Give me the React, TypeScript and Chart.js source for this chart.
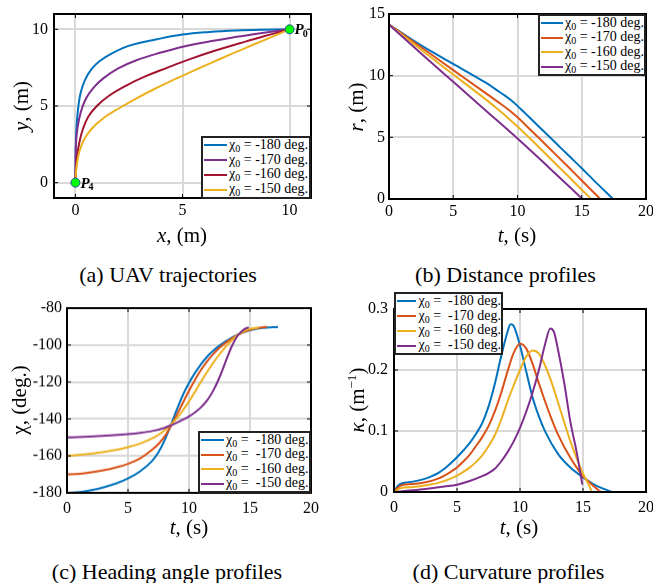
import React, { useEffect, useRef } from "react";
import { Chart, registerables } from "chart.js";

Chart.register(...registerables);

const FONT = "'Liberation Serif', 'Times New Roman', serif";

// ---------------- data ----------------
const chi0Labels = ["-180", "-170", "-160", "-150"];

// (a) UAV trajectories (x, y in m), listed from P4 to P0
const trajX180 = [0, 0.01, 0.03, 0.07, 0.14, 0.25, 0.45, 0.75, 1.15, 1.75, 2.6, 3.8, 5.0, 6.25, 7.5, 8.75, 10];
const trajY180 = [0, 1.5, 3.0, 4.0, 5.0, 5.9, 6.7, 7.4, 7.95, 8.47, 8.97, 9.35, 9.66, 9.83, 9.93, 9.98, 10];
const trajX170 = [0, 0.01, 0.03, 0.1, 0.25, 0.5, 0.85, 1.3, 2.0, 2.85, 3.95, 5.12, 6.3, 7.55, 8.8, 10];
const trajY170 = [0, 1.4, 2.6, 3.6, 4.6, 5.5, 6.2, 6.8, 7.45, 7.98, 8.47, 8.9, 9.22, 9.51, 9.78, 10];
const trajX160 = [0, 0.02, 0.07, 0.18, 0.35, 0.6, 1.0, 1.6, 2.35, 3.18, 4.3, 5.38, 6.5, 7.67, 8.8, 10];
const trajY160 = [0, 0.8, 1.6, 2.6, 3.5, 4.3, 5.0, 5.7, 6.32, 6.88, 7.5, 8.07, 8.6, 9.09, 9.55, 10];
const trajX150 = [0, 0.02, 0.08, 0.2, 0.4, 0.75, 1.3, 2.0, 2.81, 3.62, 4.7, 5.72, 6.8, 7.85, 8.9, 10];
const trajY150 = [0, 0.6, 1.3, 2.1, 2.8, 3.5, 4.2, 4.82, 5.47, 6.06, 6.78, 7.43, 8.1, 8.73, 9.35, 10];
const waypointX = [10, 0];
const waypointY = [10, 0];
const waypointIdx = ["0", "4"];

// (b) distance profiles r(t)
const tDist180 = [0, 2.5, 5, 7.5, 8.5, 9, 9.5, 10, 10.5, 11, 12, 13, 14, 15, 16, 17.4];
const rDist180 = [14.14, 12.45, 10.95, 9.45, 8.75, 8.4, 8.0, 7.55, 7.05, 6.55, 5.53, 4.52, 3.5, 2.5, 1.45, 0.05];
const tDist170 = [0, 2.5, 5, 7.5, 8.5, 9.5, 10, 11, 12, 13, 14, 15, 16.4];
const rDist170 = [14.14, 12.3, 10.45, 8.6, 7.85, 7.08, 6.62, 5.62, 4.6, 3.58, 2.55, 1.5, 0.05];
const tDist160 = [0, 2.5, 5, 7.5, 8.5, 9.5, 10, 11, 12, 13, 14, 15, 15.7];
const rDist160 = [14.14, 12.1, 10.1, 8.1, 7.25, 6.35, 5.88, 4.88, 3.85, 2.82, 1.8, 0.75, 0.05];
const tDist150 = [0, 2.5, 5, 7.5, 10, 12.5, 15];
const rDist150 = [14.14, 11.8, 9.5, 7.2, 4.9, 2.5, 0.05];

// (c) heading angle profiles chi(t), deg
const tHead180 = [0, 1, 2, 3, 4, 5, 6, 7, 7.5, 8, 8.5, 9, 9.5, 10, 10.5, 11, 11.5, 12, 12.5, 13, 14, 15, 16, 17.3];
const chiHead180 = [-180, -179.6, -178.5, -177, -175, -172.2, -168.3, -162.5, -158, -151.5, -143.5, -135, -127, -120.5, -115, -110.2, -106.2, -103, -100.3, -98, -94.3, -92, -90.8, -90.2];
const tHead170 = [0, 1, 2, 3, 4, 5, 6, 7, 7.5, 8, 8.5, 9, 9.5, 10, 10.5, 11, 11.5, 12, 12.5, 13, 14, 15, 16, 16.4];
const chiHead170 = [-170, -169.7, -168.9, -167.8, -166.3, -164.3, -161.3, -156.5, -153.5, -149.5, -144, -137.8, -131.2, -124.7, -118.7, -113.3, -108.7, -104.8, -101.5, -98.8, -94.5, -91.7, -90.4, -90.2];
const tHead160 = [0, 2, 4, 5, 6, 7, 7.5, 8, 8.5, 9, 9.5, 10, 10.5, 11, 11.5, 12, 12.5, 13, 13.5, 14, 14.5, 15, 15.7];
const chiHead160 = [-160, -158.8, -156.8, -155.3, -153.3, -150.5, -148.6, -146.2, -143.2, -139.6, -135.3, -130.5, -125.2, -119.7, -114.4, -109.5, -105, -101, -97.5, -94.6, -92.5, -91.2, -90.5];
const tHead150 = [0, 2.5, 5, 6, 7, 8, 8.5, 9, 9.5, 10, 10.5, 11, 11.5, 12, 12.5, 13, 13.5, 14, 14.5, 14.9];
const chiHead150 = [-150, -149.3, -148.2, -147.5, -146.5, -144.8, -143.5, -142, -140.4, -138.6, -136.4, -133.6, -129.8, -124.5, -117.5, -109, -100.8, -94.8, -91.6, -90.4];

// (d) curvature profiles kappa(t), 1/m
const tCurv180 = [0, 0.3, 0.6, 1.5, 2.5, 3, 3.5, 4, 4.5, 5, 5.5, 6, 6.5, 7, 7.5, 8, 8.5, 9, 9.25, 9.5, 10, 10.5, 11, 11.5, 12, 13, 14, 15, 16, 17.3];
const kCurv180 = [0, 0.01, 0.014, 0.017, 0.022, 0.026, 0.031, 0.038, 0.047, 0.057, 0.068, 0.08, 0.095, 0.113, 0.14, 0.177, 0.222, 0.262, 0.275, 0.272, 0.24, 0.197, 0.155, 0.124, 0.099, 0.063, 0.04, 0.024, 0.011, 0];
const tCurv170 = [0, 0.3, 0.6, 1.5, 2.5, 3.5, 4, 4.5, 5, 5.5, 6, 6.5, 7, 7.5, 8, 8.5, 9, 9.5, 10, 10.5, 11, 11.5, 12, 12.5, 13, 14, 15, 16, 16.4];
const kCurv170 = [0, 0.007, 0.011, 0.013, 0.016, 0.022, 0.027, 0.033, 0.04, 0.05, 0.061, 0.075, 0.09, 0.108, 0.132, 0.162, 0.197, 0.228, 0.243, 0.235, 0.21, 0.178, 0.148, 0.12, 0.095, 0.056, 0.026, 0.007, 0];
const tCurv160 = [0, 0.5, 1.5, 2.5, 3.5, 4.5, 5, 5.5, 6, 6.5, 7, 7.5, 8, 8.5, 9, 9.5, 10, 10.5, 11, 11.5, 12, 12.5, 13, 13.5, 14, 14.5, 15, 15.5, 15.7];
const kCurv160 = [0, 0.006, 0.008, 0.011, 0.015, 0.022, 0.027, 0.033, 0.04, 0.049, 0.06, 0.075, 0.093, 0.118, 0.148, 0.175, 0.2, 0.222, 0.232, 0.227, 0.207, 0.18, 0.148, 0.115, 0.083, 0.055, 0.03, 0.01, 0];
const tCurv150 = [0, 1, 2.5, 4, 5, 6, 7, 7.5, 8, 8.5, 9, 9.5, 10, 10.5, 11, 11.5, 12, 12.4, 12.7, 13, 13.5, 14, 14.5, 14.95];
const kCurv150 = [0, 0.002, 0.005, 0.009, 0.012, 0.018, 0.026, 0.031, 0.038, 0.05, 0.065, 0.083, 0.105, 0.132, 0.163, 0.2, 0.243, 0.268, 0.262, 0.235, 0.18, 0.115, 0.065, 0.012];

// tick values
const ticksA = [0, 5, 10];
const ticksT = [0, 5, 10, 15, 20];
const ticksR = [0, 5, 10, 15];
const ticksChi = [-180, -160, -140, -120, -100, -80];
const ticksK = [0, 0.1, 0.2, 0.3];

// ---------------- styles ----------------
const colorsA = ["#0072BD", "#7E2F8E", "#A2142F", "#EDB120"];
const colorsB = ["#0072BD", "#D95319", "#EDB120", "#7E2F8E"];

const ML = 60, MT = 20, MR = 20, MB = 40;

type Box = { l: number; t: number; r: number; b: number };

const pts = (xs: number[], ys: number[]) => xs.map((x, i) => ({ x, y: ys[i] }));

const framePlugin = {
  id: "frame",
  afterDatasetsDraw(chart: any) {
    const { ctx, chartArea: a, scales } = chart;
    ctx.save();
    ctx.strokeStyle = "#000";
    ctx.lineWidth = 1;
    const tl = 4;
    ctx.beginPath();
    scales.x.ticks.forEach((t: any) => {
      const p = scales.x.getPixelForValue(t.value);
      ctx.moveTo(p, a.bottom);
      ctx.lineTo(p, a.bottom - tl);
      ctx.moveTo(p, a.top);
      ctx.lineTo(p, a.top + tl);
    });
    scales.y.ticks.forEach((t: any) => {
      const p = scales.y.getPixelForValue(t.value);
      ctx.moveTo(a.left, p);
      ctx.lineTo(a.left + tl, p);
      ctx.moveTo(a.right, p);
      ctx.lineTo(a.right - tl, p);
    });
    ctx.stroke();
    ctx.lineWidth = 2;
    ctx.strokeRect(a.left, a.top, a.right - a.left, a.bottom - a.top);
    ctx.restore();
  },
};

const waypointLabelPlugin = {
  id: "wpLabels",
  afterDraw(chart: any) {
    const { ctx, scales } = chart;
    ctx.save();
    ctx.fillStyle = "#000";
    ctx.textBaseline = "middle";
    waypointX.forEach((x, i) => {
      const px = scales.x.getPixelForValue(x) + 5;
      const py = scales.y.getPixelForValue(waypointY[i]) + 1;
      ctx.font = `italic bold 15px ${FONT}`;
      ctx.fillText("P", px, py);
      const w = ctx.measureText("P").width;
      ctx.font = `bold 10px ${FONT}`;
      ctx.fillText(waypointIdx[i], px + w - 1, py + 4);
    });
    ctx.restore();
  },
};

type PanelProps = {
  box: Box;
  datasets: any[];
  xMin: number; xMax: number; yMin: number; yMax: number;
  xTicks: number[]; yTicks: number[];
  xPad: number; yPad: number;
  extraPlugins?: any[];
};

function Panel(p: PanelProps) {
  const ref = useRef<HTMLCanvasElement>(null);
  const W = p.box.r - p.box.l + ML + MR;
  const H = p.box.b - p.box.t + MT + MB;
  useEffect(() => {
    if (!ref.current) return;
    const grid = { color: "#d9d9d9", lineWidth: 2, drawTicks: false };
    const tickFont = { family: FONT, size: 16 };
    const chart = new Chart(ref.current, {
      type: "line",
      data: { datasets: p.datasets },
      options: {
        animation: false,
        responsive: false,
        maintainAspectRatio: false,
        layout: { padding: { left: 0, top: MT, right: MR, bottom: 0 } },
        plugins: { legend: { display: false }, tooltip: { enabled: false } },
        elements: { point: { radius: 0 } },
        scales: {
          x: {
            type: "linear",
            min: p.xMin,
            max: p.xMax,
            afterBuildTicks: (s: any) => { s.ticks = p.xTicks.map((v) => ({ value: v })); },
            afterFit: (s: any) => { s.height = MB; },
            grid,
            border: { display: false },
            ticks: { font: tickFont, color: "#000", padding: p.xPad, maxRotation: 0, autoSkip: false, callback: (v: any) => String(v) },
          },
          y: {
            type: "linear",
            min: p.yMin,
            max: p.yMax,
            afterBuildTicks: (s: any) => { s.ticks = p.yTicks.map((v) => ({ value: v })); },
            afterFit: (s: any) => { s.width = ML; },
            grid,
            border: { display: false },
            ticks: { font: tickFont, color: "#000", padding: p.yPad, autoSkip: false, callback: (v: any) => String(v) },
          },
        },
      } as any,
      plugins: [framePlugin, ...(p.extraPlugins || [])],
    });
    return () => chart.destroy();
  }, []);
  return (
    <canvas
      ref={ref}
      width={W}
      height={H}
      style={{ position: "absolute", left: p.box.l - ML, top: p.box.t - MT, width: W, height: H }}
    />
  );
}

function lineSet(xs: number[], ys: number[], color: string, i: number, mode: "tension" | "monotone") {
  return {
    data: pts(xs, ys),
    borderColor: color,
    backgroundColor: color,
    borderWidth: 2,
    pointRadius: 0,
    fill: false,
    order: -i,
    ...(mode === "monotone" ? { cubicInterpolationMode: "monotone" } : { tension: 0.4 }),
  };
}

function Legend({ box, colors, eq }: { box: Box; colors: string[]; eq: string }) {
  const rowH = (box.b - box.t - 4) / 4;
  return (
    <div
      style={{
        position: "absolute",
        left: box.l,
        top: box.t,
        width: box.r - box.l,
        height: box.b - box.t,
        boxSizing: "border-box",
        border: "2px solid #222",
        background: "#fff",
        fontFamily: FONT,
        fontSize: 14,
        color: "#000",
        zIndex: 2,
      }}
    >
      {chi0Labels.map((lab, i) => (
        <div key={i} style={{ display: "flex", alignItems: "center", height: rowH, paddingLeft: 1, whiteSpace: "pre" }}>
          <span style={{ display: "inline-block", width: 23, height: 0, borderTop: `2.5px solid ${colors[i]}`, marginRight: 2 }} />
          <span style={{ lineHeight: "14px" }}>
            χ<span style={{ fontSize: 10, position: "relative", top: 3 }}>0</span>
            {eq}
            {lab} deg.
          </span>
        </div>
      ))}
    </div>
  );
}

function Txt({ x, y, size, rotate, children }: { x: number; y: number; size: number; rotate?: boolean; children: React.ReactNode }) {
  return (
    <div
      style={{
        position: "absolute",
        left: x,
        top: y,
        transform: `translate(-50%, -50%)${rotate ? " rotate(-90deg)" : ""}`,
        whiteSpace: "nowrap",
        fontFamily: FONT,
        fontSize: size,
        lineHeight: 1,
        color: "#000",
      }}
    >
      {children}
    </div>
  );
}

const boxA: Box = { l: 54, t: 14, r: 311, b: 198 };
const boxB: Box = { l: 389, t: 14, r: 646, b: 199 };
const boxC: Box = { l: 67, t: 308, r: 311, b: 492.5 };
const boxD: Box = { l: 394, t: 309, r: 646, b: 492 };

export default function App() {
  const trajX = [trajX180, trajX170, trajX160, trajX150];
  const trajY = [trajY180, trajY170, trajY160, trajY150];
  const dsA = [
    {
      data: pts(waypointX, waypointY),
      showLine: false,
      pointRadius: 4.5,
      pointBackgroundColor: "#00ff00",
      pointBorderColor: "#1f4f9f",
      pointBorderWidth: 1,
      order: -10,
    },
    ...trajX.map((xs, i) => lineSet(xs, trajY[i], colorsA[i], i, "tension")),
  ];
  const tD = [tDist180, tDist170, tDist160, tDist150];
  const rD = [rDist180, rDist170, rDist160, rDist150];
  const dsB = tD.map((xs, i) => lineSet(xs, rD[i], colorsB[i], i, "monotone"));
  const tH = [tHead180, tHead170, tHead160, tHead150];
  const cH = [chiHead180, chiHead170, chiHead160, chiHead150];
  const dsC = tH.map((xs, i) => lineSet(xs, cH[i], colorsB[i], i, "monotone"));
  const tC = [tCurv180, tCurv170, tCurv160, tCurv150];
  const kC = [kCurv180, kCurv170, kCurv160, kCurv150];
  const dsD = tC.map((xs, i) => lineSet(xs, kC[i], colorsB[i], i, "monotone"));

  return (
    <div style={{ position: "fixed", left: 0, top: 0, width: 653, height: 583, overflow: "hidden", background: "#fff" }}>
      <Panel box={boxA} datasets={dsA} xMin={-1} xMax={11} yMin={-1} yMax={11} xTicks={ticksA} yTicks={ticksA} xPad={3} yPad={6} extraPlugins={[waypointLabelPlugin]} />
      <Panel box={boxB} datasets={dsB} xMin={0} xMax={20} yMin={0} yMax={15} xTicks={ticksT} yTicks={ticksR} xPad={3} yPad={4} />
      <Panel box={boxC} datasets={dsC} xMin={0} xMax={20} yMin={-180} yMax={-80} xTicks={ticksT} yTicks={ticksChi} xPad={6} yPad={5} />
      <Panel box={boxD} datasets={dsD} xMin={0} xMax={20} yMin={0} yMax={0.3} xTicks={ticksT} yTicks={ticksK} xPad={6} yPad={6} />

      <Legend box={{ l: 201, t: 136, r: 311, b: 199 }} colors={colorsA} eq=" = " />
      <Legend box={{ l: 538, t: 14, r: 646, b: 76 }} colors={colorsB} eq=" = " />
      <Legend box={{ l: 198, t: 431, r: 311, b: 493 }} colors={colorsB} eq=" =  " />
      <Legend box={{ l: 394, t: 292, r: 503, b: 355 }} colors={colorsB} eq=" =  " />

      <Txt x={20.5} y={106} size={21} rotate><i>y</i>, (m)</Txt>
      <Txt x={182} y={235} size={21}><i>x</i>, (m)</Txt>
      <Txt x={356} y={107} size={21} rotate><i>r</i>, (m)</Txt>
      <Txt x={517} y={235} size={21}><i>t</i>, (s)</Txt>
      <Txt x={19} y={400} size={21} rotate>χ, (deg.)</Txt>
      <Txt x={189} y={527} size={21}><i>t</i>, (s)</Txt>
      <Txt x={356} y={400} size={21} rotate><i>κ</i>, (m<sup style={{ fontSize: 13 }}>−1</sup>)</Txt>
      <Txt x={519} y={527} size={21}><i>t</i>, (s)</Txt>

      <Txt x={168} y={275} size={22}>(a) UAV trajectories</Txt>
      <Txt x={505.5} y={275} size={22}>(b) Distance profiles</Txt>
      <Txt x={167} y={572} size={22}>(c) Heading angle profiles</Txt>
      <Txt x={508.5} y={572} size={22}>(d) Curvature profiles</Txt>
    </div>
  );
}
